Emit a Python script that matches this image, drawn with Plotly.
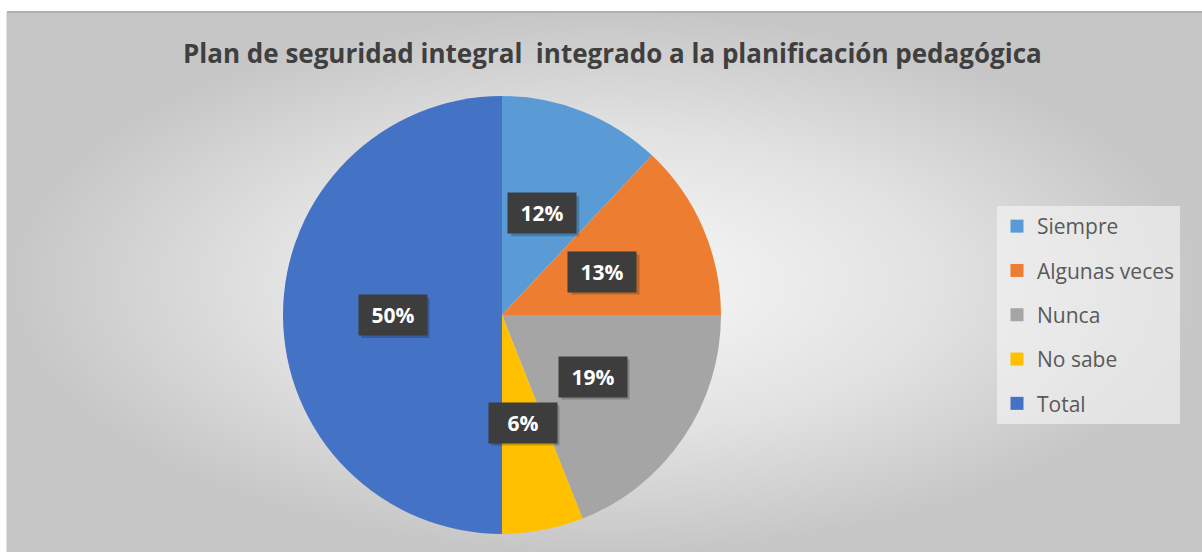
import math

import plotly.graph_objects as go

# data
categories = ["Siempre", "Algunas veces", "Nunca", "No sabe", "Total"]
shares = [12, 13, 19, 6, 50]
colors = ["#5b9bd5", "#ed7d31", "#a5a5a5", "#ffc000", "#4472c4"]

TITLE = "Plan de seguridad integral\u00a0 integrado a la planificación pedagógica"
FONT = "Open Sans, sans-serif"

W, H = 1202, 552
CX, CY, R = 502, 315, 219  # pie centre and radius in pixels
BOX_W, BOX_H, PAD = 52, 24, 8

fig = go.Figure()

# gradient chart area (Excel style grey radial fill)
fig.add_trace(
    go.Scatter(
        x=[7, W + 2, W + 2, 7, 7],
        y=[12, 12, H + 2, H + 2, 12],
        mode="lines",
        fill="toself",
        line={"width": 0},
        fillgradient={
            "type": "radial",
            "colorscale": [[0.0, "#f8f8f8"], [0.55, "#e2e2e2"], [1.0, "#c6c6c6"]],
        },
        hoverinfo="skip",
        showlegend=False,
    )
)

fig.add_trace(
    go.Pie(
        labels=categories,
        values=shares,
        sort=False,
        direction="clockwise",
        rotation=0,
        marker={"colors": colors, "line": {"width": 0}},
        textinfo="none",
        hoverinfo="label+percent",
        showlegend=False,
        domain={
            "x": [(CX - R) / W, (CX + R) / W],
            "y": [1 - (CY + R) / H, 1 - (CY - R) / H],
        },
    )
)

# legend entries, one group each so the spacing can be opened up
for name, color in zip(categories, colors):
    fig.add_trace(
        go.Scatter(
            x=[None],
            y=[None],
            mode="markers",
            name=name,
            legendgroup=name,
            marker={"symbol": "square", "size": 13, "color": color},
        )
    )

# chart frame: only the top and left edges show in the reference
shapes = [
    {"type": "line", "xref": "x", "yref": "y", "x0": 7, "x1": W, "y0": 12, "y1": 12,
     "line": {"color": "#b0b0b0", "width": 2}, "layer": "above"},
    {"type": "line", "xref": "x", "yref": "y", "x0": 7, "x1": 7, "y0": 12, "y1": H,
     "line": {"color": "#c4c4c4", "width": 1}, "layer": "above"},
]

# dark data label boxes at half radius along each slice's mid angle
total = sum(shares)
annotations = []
cum = 0.0
half_w = BOX_W / 2 + PAD
half_h = BOX_H / 2 + PAD
for v in shares:
    theta = 2 * math.pi * (cum + v / 2) / total
    cum += v
    lx = CX + 0.5 * R * math.sin(theta)
    ly = CY - 0.5 * R * math.cos(theta)
    # soft drop shadow
    shapes.append(
        {
            "type": "rect",
            "xref": "x",
            "yref": "y",
            "x0": lx - half_w + 3,
            "x1": lx + half_w + 3,
            "y0": ly - half_h + 3,
            "y1": ly + half_h + 3,
            "fillcolor": "rgba(0,0,0,0.2)",
            "line": {"width": 0},
            "layer": "above",
        }
    )
    annotations.append(
        {
            "x": lx,
            "y": ly,
            "xref": "x",
            "yref": "y",
            "showarrow": False,
            "width": BOX_W,
            "height": BOX_H,
            "borderpad": PAD,
            "text": f"<b>{round(100 * v / total)}%</b>",
            "bgcolor": "#3d3d3d",
            "font": {"family": FONT, "size": 21, "color": "#ffffff"},
        }
    )

annotations.append(
    {
        "x": 612,
        "y": 53,
        "xref": "x",
        "yref": "y",
        "showarrow": False,
        "text": f"<b>{TITLE}</b>",
        "font": {"family": FONT, "size": 26, "color": "#3f3f3f"},
    }
)

fig.update_layout(
    width=W,
    height=H,
    margin={"l": 0, "r": 0, "t": 0, "b": 0},
    paper_bgcolor="#ffffff",
    plot_bgcolor="#ffffff",
    font={"family": FONT, "color": "#595959"},
    showlegend=True,
    legend={
        "x": 997 / W,
        "y": 1 - 206 / H,
        "xanchor": "left",
        "yanchor": "top",
        "bgcolor": "rgba(246,246,246,0.6)",
        "font": {"family": FONT, "size": 21, "color": "#595959"},
        "tracegroupgap": 14,
        "itemclick": False,
        "itemdoubleclick": False,
    },
    annotations=annotations,
    shapes=shapes,
)
fig.update_xaxes(range=[0, W], visible=False, fixedrange=True)
fig.update_yaxes(range=[H, 0], visible=False, fixedrange=True)

fig.write_html(
    "out.html",
    config={"displayModeBar": False},
    post_script="document.body.style.margin='0';",
)
